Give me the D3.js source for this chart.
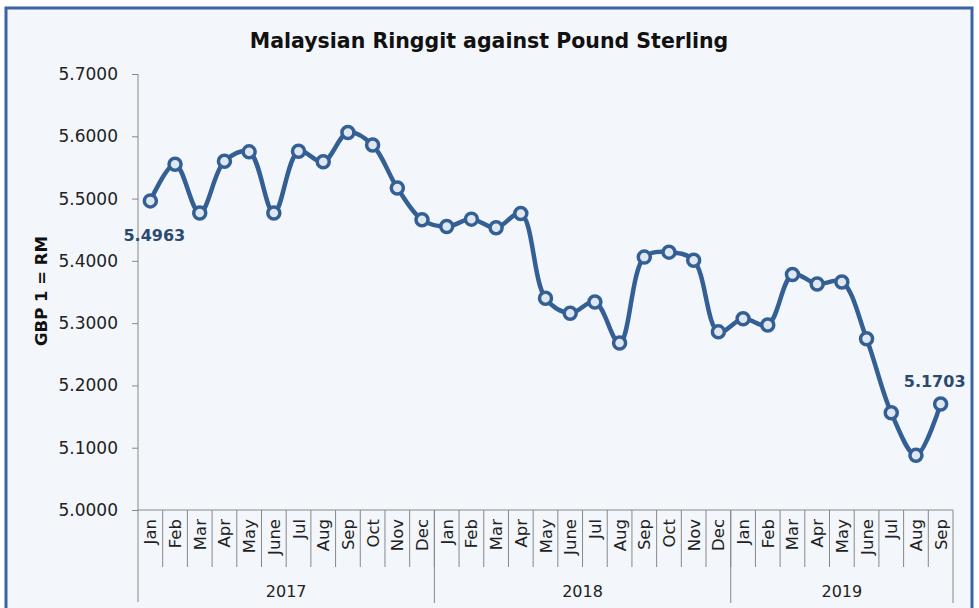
<!DOCTYPE html>
<html>
<head>
<meta charset="utf-8">
<script src="https://cdn.jsdelivr.net/npm/d3@7"></script>
<style>
  body { margin: 0; background: #fff; }
  #chart { width: 979px; height: 608px; }
  text { font-family: "DejaVu Sans", sans-serif; }
</style>
</head>
<body>
<div id="chart"></div>
<script>
// data
var months = ["Jan","Feb","Mar","Apr","May","June","Jul","Aug","Sep","Oct","Nov","Dec",
              "Jan","Feb","Mar","Apr","May","June","Jul","Aug","Sep","Oct","Nov","Dec",
              "Jan","Feb","Mar","Apr","May","June","Jul","Aug","Sep"];
var years = ["2017", "2018", "2019"];
var yearCounts = [12, 12, 9];
var rates = [5.4963, 5.555, 5.477, 5.560, 5.575, 5.477, 5.576, 5.559, 5.606, 5.586, 5.517, 5.466,
             5.455, 5.467, 5.453, 5.476, 5.340, 5.316, 5.334, 5.268, 5.406, 5.414, 5.401, 5.286,
             5.307, 5.297, 5.378, 5.363, 5.366, 5.275, 5.156, 5.088, 5.1703];
var yTicks = [5.0, 5.1, 5.2, 5.3, 5.4, 5.5, 5.6, 5.7];

var margin = {top: 74, right: 26, bottom: 98, left: 138},
    width = 979 - margin.left - margin.right,
    height = 608 - margin.top - margin.bottom;

var blue = "#335f95";

var root = d3.select("#chart").append("svg")
    .attr("width", 979)
    .attr("height", 608);

// frame
root.append("rect")
    .attr("x", 6).attr("y", 8)
    .attr("width", 966).attr("height", 610)
    .attr("fill", "#f3f6fb")
    .attr("stroke", "#3a62a7")
    .attr("stroke-width", 3);

root.append("text")
    .attr("x", 489).attr("y", 48)
    .attr("text-anchor", "middle")
    .style("font-size", "20.5px")
    .style("font-weight", "bold")
    .attr("fill", "#111")
    .text("Malaysian Ringgit against Pound Sterling");

var svg = root.append("g")
    .attr("transform", "translate(" + margin.left + "," + margin.top + ")");

var x = d3.scaleBand().domain(d3.range(months.length)).range([0, width]);
var y = d3.scaleLinear().domain([5.0, 5.7]).range([height, 0]);

// y axis
var yAxis = svg.append("g")
    .call(d3.axisLeft(y).tickValues(yTicks).tickFormat(d3.format(".4f")).tickSizeOuter(0).tickSize(6));
yAxis.select(".domain").remove();
yAxis.selectAll("line").attr("stroke", "#888");
yAxis.selectAll("text")
    .attr("fill", "#222")
    .attr("x", -20)
    .style("font-size", "17px");

svg.append("line")
    .attr("x1", 0).attr("x2", 0)
    .attr("y1", 0).attr("y2", height + 92)
    .attr("stroke", "#888");

// x axis baseline
svg.append("line")
    .attr("x1", 0).attr("x2", width)
    .attr("y1", height).attr("y2", height)
    .attr("stroke", "#888");

// month separators
svg.selectAll(".msep")
    .data(d3.range(1, months.length))
    .enter().append("line")
    .attr("x1", function(d) { return x(d); })
    .attr("x2", function(d) { return x(d); })
    .attr("y1", height)
    .attr("y2", height + 57)
    .attr("stroke", "#888");

// year separators
var cum = [0];
yearCounts.forEach(function(c, i) { cum.push(cum[i] + c); });
svg.selectAll(".ysep")
    .data(cum.slice(1))
    .enter().append("line")
    .attr("x1", function(d) { return d === months.length ? width : x(d); })
    .attr("x2", function(d) { return d === months.length ? width : x(d); })
    .attr("y1", height)
    .attr("y2", height + 93)
    .attr("stroke", "#888");

// month labels
svg.selectAll(".mlab")
    .data(months)
    .enter().append("text")
    .attr("transform", function(d, i) {
      return "translate(" + (x(i) + x.bandwidth() / 2 + 6) + "," + (height + 9) + ") rotate(-90)";
    })
    .attr("text-anchor", "end")
    .attr("fill", "#222")
    .style("font-size", "16.5px")
    .text(function(d) { return d; });

// year labels
svg.selectAll(".ylab")
    .data(years)
    .enter().append("text")
    .attr("x", function(d, i) {
      var a = x(cum[i]), b = cum[i + 1] === months.length ? width : x(cum[i + 1]);
      return (a + b) / 2;
    })
    .attr("y", height + 87)
    .attr("text-anchor", "middle")
    .attr("fill", "#222")
    .style("font-size", "16px")
    .text(function(d) { return d; });

// y axis title
svg.append("text")
    .attr("transform", "translate(-91," + (217) + ") rotate(-90)")
    .attr("text-anchor", "middle")
    .style("font-size", "16.5px")
    .style("font-weight", "bold")
    .attr("fill", "#111")
    .text("GBP 1 = RM");

// line
var line = d3.line()
    .curve(d3.curveCatmullRom.alpha(0.5))
    .x(function(d, i) { return x(i) + x.bandwidth() / 2; })
    .y(function(d) { return y(d); });

svg.append("path")
    .datum(rates)
    .attr("fill", "none")
    .attr("stroke", blue)
    .attr("stroke-width", 4.5)
    .attr("d", line);

svg.selectAll(".dot")
    .data(rates)
    .enter().append("circle")
    .attr("cx", function(d, i) { return x(i) + x.bandwidth() / 2; })
    .attr("cy", function(d) { return y(d); })
    .attr("r", 6)
    .attr("fill", "#dfe7f1")
    .attr("stroke", blue)
    .attr("stroke-width", 3.5);

// data labels
var last = rates.length - 1;
svg.append("text")
    .attr("x", x(0) + x.bandwidth() / 2 + 4)
    .attr("y", y(rates[0]) + 40)
    .attr("text-anchor", "middle")
    .style("font-size", "16px")
    .style("font-weight", "bold")
    .attr("fill", "#2c4a70")
    .text(d3.format(".4f")(rates[0]));

svg.append("text")
    .attr("x", x(last) + x.bandwidth() / 2 - 6)
    .attr("y", y(rates[last]) - 17)
    .attr("text-anchor", "middle")
    .style("font-size", "16px")
    .style("font-weight", "bold")
    .attr("fill", "#2c4a70")
    .text(d3.format(".4f")(rates[last]));
</script>
</body>
</html>
